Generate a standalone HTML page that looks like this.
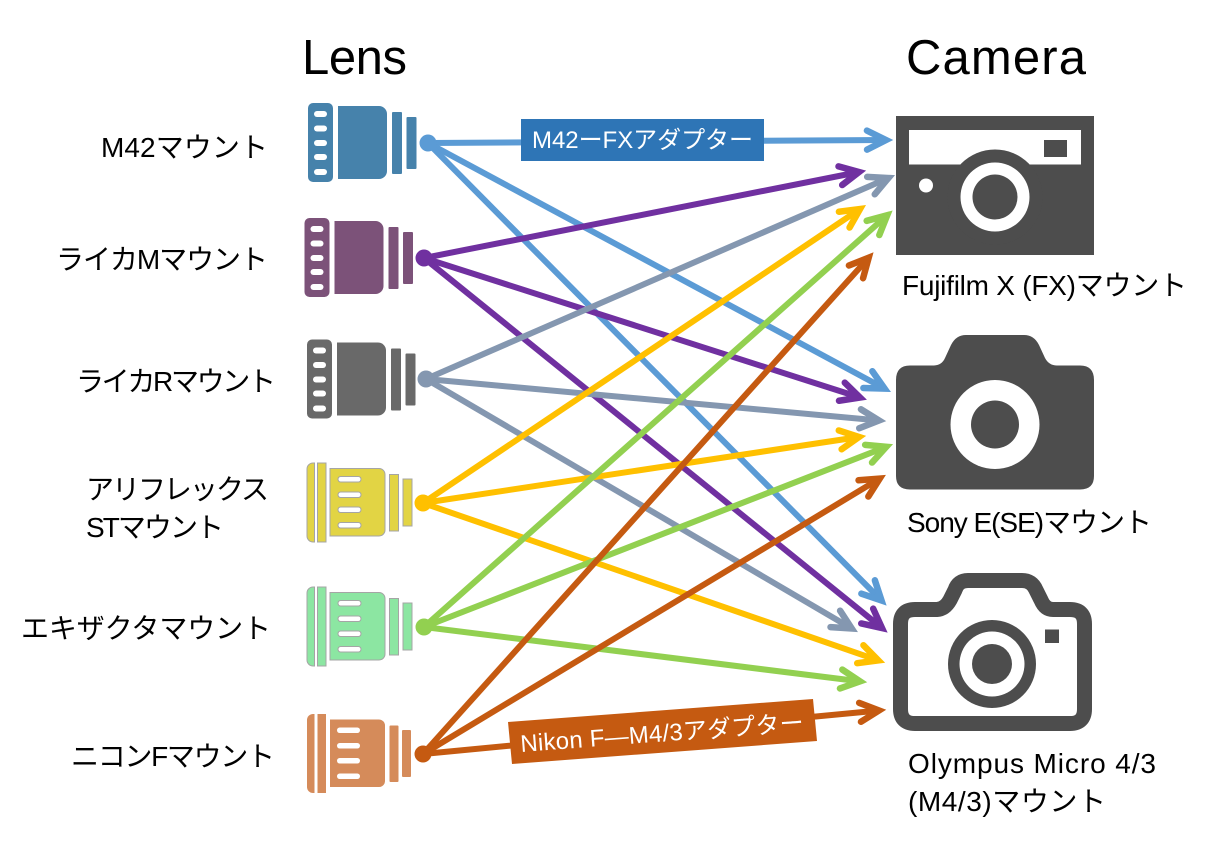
<!DOCTYPE html>
<html><head><meta charset="utf-8"><style>
html,body{margin:0;padding:0;background:#fff;width:1225px;height:841px;overflow:hidden}
svg{display:block}
text{font-family:"Liberation Sans","Noto Sans CJK JP",sans-serif;fill:#000}
.t{font-size:28px}
.h{font-size:49px}
.w{fill:#fff;font-size:24px}
line{stroke-width:6}
</style></head><body>
<svg width="1225" height="841" viewBox="0 0 1225 841" xmlns="http://www.w3.org/2000/svg">
<defs>
<marker id="mb" markerUnits="userSpaceOnUse" markerWidth="60" markerHeight="60" refX="30" refY="30" orient="auto" overflow="visible"><path d="M11,20.500 L30,30 L11,39.500" fill="none" stroke="#5b9bd5" stroke-width="6.500" stroke-linecap="round" stroke-linejoin="miter"/></marker>
<marker id="mp" markerUnits="userSpaceOnUse" markerWidth="60" markerHeight="60" refX="30" refY="30" orient="auto" overflow="visible"><path d="M11,20.500 L30,30 L11,39.500" fill="none" stroke="#7030a0" stroke-width="6.500" stroke-linecap="round" stroke-linejoin="miter"/></marker>
<marker id="mg" markerUnits="userSpaceOnUse" markerWidth="60" markerHeight="60" refX="30" refY="30" orient="auto" overflow="visible"><path d="M11,20.500 L30,30 L11,39.500" fill="none" stroke="#8497b0" stroke-width="6.500" stroke-linecap="round" stroke-linejoin="miter"/></marker>
<marker id="my" markerUnits="userSpaceOnUse" markerWidth="60" markerHeight="60" refX="30" refY="30" orient="auto" overflow="visible"><path d="M11,20.500 L30,30 L11,39.500" fill="none" stroke="#ffc000" stroke-width="6.500" stroke-linecap="round" stroke-linejoin="miter"/></marker>
<marker id="mn" markerUnits="userSpaceOnUse" markerWidth="60" markerHeight="60" refX="30" refY="30" orient="auto" overflow="visible"><path d="M11,20.500 L30,30 L11,39.500" fill="none" stroke="#92d050" stroke-width="6.500" stroke-linecap="round" stroke-linejoin="miter"/></marker>
<marker id="mo" markerUnits="userSpaceOnUse" markerWidth="60" markerHeight="60" refX="30" refY="30" orient="auto" overflow="visible"><path d="M11,20.500 L30,30 L11,39.500" fill="none" stroke="#c55a11" stroke-width="6.500" stroke-linecap="round" stroke-linejoin="miter"/></marker>
</defs>

<text class="h" x="302" y="74" textLength="105">Lens</text>
<text class="h" x="906" y="74" textLength="180">Camera</text>

<text class="t" x="101" y="157" textLength="167">M42マウント</text>
<text class="t" x="56" y="269" textLength="212">ライカMマウント</text>
<text class="t" x="76" y="391" textLength="200">ライカRマウント</text>
<text class="t" x="86" y="499" textLength="183">アリフレックス</text>
<text class="t" x="86" y="537" textLength="138">STマウント</text>
<text class="t" x="21" y="638" textLength="250">エキザクタマウント</text>
<text class="t" x="71" y="766" textLength="204">ニコンFマウント</text>
<text class="t" x="902" y="295" textLength="285">Fujifilm X (FX)マウント</text>
<text class="t" x="907" y="532" textLength="245">Sony E(SE)マウント</text>
<text class="t" x="908" y="773" textLength="248">Olympus Micro 4/3</text>
<text class="t" x="908" y="811" textLength="198">(M4/3)マウント</text>

<!-- lenses type A -->
<g fill="#4682ab">
<rect x="308" y="103" width="25" height="79" rx="5"/>
<path d="M338,106H379a8,8 0 0 1 8,8V171a8,8 0 0 1 -8,8H338Z"/>
<rect x="392" y="112" width="10" height="62" rx="1"/><rect x="406.500" y="117" width="10" height="52" rx="1"/>
<g fill="#fff"><rect x="314" y="111" width="13" height="6" rx="3"/><rect x="314" y="125.500" width="13" height="6" rx="3"/><rect x="314" y="140" width="13" height="6" rx="3"/><rect x="314" y="154" width="13" height="6" rx="3"/><rect x="314" y="169" width="13" height="6" rx="3"/></g>
</g>
<g fill="#7c5279" transform="translate(-3.500,115)">
<rect x="308" y="103" width="25" height="79" rx="5"/>
<path d="M338,106H379a8,8 0 0 1 8,8V171a8,8 0 0 1 -8,8H338Z"/>
<rect x="392" y="112" width="10" height="62" rx="1"/><rect x="406.500" y="117" width="10" height="52" rx="1"/>
<g fill="#fff"><rect x="314" y="111" width="13" height="6" rx="3"/><rect x="314" y="125.500" width="13" height="6" rx="3"/><rect x="314" y="140" width="13" height="6" rx="3"/><rect x="314" y="154" width="13" height="6" rx="3"/><rect x="314" y="169" width="13" height="6" rx="3"/></g>
</g>
<g fill="#696969" transform="translate(-1,236.500)">
<rect x="308" y="103" width="25" height="79" rx="5"/>
<path d="M338,106H379a8,8 0 0 1 8,8V171a8,8 0 0 1 -8,8H338Z"/>
<rect x="392" y="112" width="10" height="62" rx="1"/><rect x="406.500" y="117" width="10" height="52" rx="1"/>
<g fill="#fff"><rect x="314" y="111" width="13" height="6" rx="3"/><rect x="314" y="125.500" width="13" height="6" rx="3"/><rect x="314" y="140" width="13" height="6" rx="3"/><rect x="314" y="154" width="13" height="6" rx="3"/><rect x="314" y="169" width="13" height="6" rx="3"/></g>
</g>

<!-- lenses type B -->
<g fill="#e2d444" stroke="#a5a5a5" stroke-width="1">
<path d="M314.500,463V542H313a6,6 0 0 1 -6,-6V469a6,6 0 0 1 6,-6Z"/>
<rect x="317.500" y="463" width="8.500" height="79"/>
<path d="M330,468.500H379a6,6 0 0 1 6,6V530a6,6 0 0 1 -6,6H330Z"/>
<rect x="389.500" y="474.500" width="9" height="56.500"/><rect x="403" y="479" width="9" height="47"/>
<g fill="#fff"><rect x="338" y="476.500" width="23" height="5.500" rx="2.700"/><rect x="338" y="492" width="23" height="5.500" rx="2.700"/><rect x="338" y="507" width="23" height="5.500" rx="2.700"/><rect x="338" y="522.500" width="23" height="5.500" rx="2.700"/></g>
</g>
<g fill="#8ce6a2" stroke="#a5a5a5" stroke-width="1" transform="translate(0,124)">
<path d="M314.500,463V542H313a6,6 0 0 1 -6,-6V469a6,6 0 0 1 6,-6Z"/>
<rect x="317.500" y="463" width="8.500" height="79"/>
<path d="M330,468.500H379a6,6 0 0 1 6,6V530a6,6 0 0 1 -6,6H330Z"/>
<rect x="389.500" y="474.500" width="9" height="56.500"/><rect x="403" y="479" width="9" height="47"/>
<g fill="#fff"><rect x="338" y="476.500" width="23" height="5.500" rx="2.700"/><rect x="338" y="492" width="23" height="5.500" rx="2.700"/><rect x="338" y="507" width="23" height="5.500" rx="2.700"/><rect x="338" y="522.500" width="23" height="5.500" rx="2.700"/></g>
</g>
<g fill="#d58b5a" transform="translate(0,251)">
<path d="M314.500,463V542H313a6,6 0 0 1 -6,-6V469a6,6 0 0 1 6,-6Z"/>
<rect x="317.500" y="463" width="8.500" height="79"/>
<path d="M330,468.500H379a6,6 0 0 1 6,6V530a6,6 0 0 1 -6,6H330Z"/>
<rect x="389.500" y="474.500" width="9" height="56.500" rx="1"/><rect x="402" y="479" width="9" height="47" rx="1"/>
<g fill="#fff"><rect x="337" y="476.500" width="23" height="5.500" rx="2.700"/><rect x="337" y="492" width="23" height="5.500" rx="2.700"/><rect x="337" y="507" width="23" height="5.500" rx="2.700"/><rect x="337" y="522.500" width="23" height="5.500" rx="2.700"/></g>
</g>

<!-- FX camera -->
<rect x="896" y="116" width="198" height="139" fill="#4d4d4d"/>
<rect x="909" y="130" width="172" height="34.500" fill="#fff"/>
<rect x="1044" y="140" width="23" height="17" fill="#4d4d4d"/>
<circle cx="995" cy="197" r="47.500" fill="#4d4d4d"/>
<circle cx="995" cy="197" r="34.500" fill="#fff"/>
<circle cx="995" cy="197" r="22.500" fill="#4d4d4d"/>
<circle cx="926" cy="185.500" r="7" fill="#fff"/>

<!-- Sony camera -->
<path fill="#4d4d4d" d="M910,365.500H934Q942,365 945,358L951,345Q956,335 966,335H1024Q1034,335 1039,345L1045,358Q1049,365.500 1057,365.500H1080Q1094,365.500 1094,380V476Q1094,489.500 1080,489.500H910Q896,489.500 896,476V380Q896,365.500 910,365.500Z"/>
<circle cx="995" cy="424.500" r="44.500" fill="#fff"/>
<circle cx="995" cy="424.500" r="24" fill="#4d4d4d"/>

<!-- Olympus camera -->
<path fill="none" stroke="#4d4d4d" stroke-width="15" stroke-linejoin="round" d="M915,609.500H937Q945,609 950,600L955,590Q958,580.500 968,580.500H1022Q1032,580.500 1036,590L1041,600Q1045,609.500 1053,609.500H1070Q1084.500,609.500 1084.500,624V709Q1084.500,723.500 1070,723.500H915Q900.500,723.500 900.500,709V624Q900.500,609.500 915,609.500Z"/>
<circle cx="992" cy="664" r="44" fill="#4d4d4d"/>
<circle cx="992" cy="664" r="32.500" fill="#fff"/>
<circle cx="992" cy="664" r="20" fill="#4d4d4d"/>
<rect x="1045" y="629.500" width="14" height="13.500" fill="#4d4d4d"/>

<!-- connectors -->
<g stroke="#5b9bd5">
<line x1="428" y1="143" x2="886" y2="140" marker-end="url(#mb)"/>
<line x1="428" y1="143" x2="884.600" y2="388.600" marker-end="url(#mb)"/>
<line x1="428" y1="143" x2="881.500" y2="600.500" marker-end="url(#mb)"/>
</g>
<circle cx="428" cy="143" r="8.500" fill="#5b9bd5"/>
<g stroke="#7030a0">
<line x1="424" y1="258" x2="859" y2="172" marker-end="url(#mp)"/>
<line x1="424" y1="258" x2="860" y2="397.500" marker-end="url(#mp)"/>
<line x1="424" y1="258" x2="882" y2="628" marker-end="url(#mp)"/>
</g>
<circle cx="424" cy="258" r="8.500" fill="#7030a0"/>
<g stroke="#8497b0">
<line x1="426" y1="379" x2="888.400" y2="178" marker-end="url(#mg)"/>
<line x1="426" y1="379" x2="879" y2="420.500" marker-end="url(#mg)"/>
<line x1="426" y1="379" x2="851.700" y2="628.500" marker-end="url(#mg)"/>
</g>
<circle cx="426" cy="379" r="8.500" fill="#8497b0"/>
<g stroke="#ffc000">
<line x1="423" y1="503" x2="860" y2="209" marker-end="url(#my)"/>
<line x1="423" y1="503" x2="859" y2="437" marker-end="url(#my)"/>
<line x1="423" y1="503" x2="878.300" y2="660.400" marker-end="url(#my)"/>
</g>
<circle cx="423" cy="503" r="8.500" fill="#ffc000"/>
<g stroke="#92d050">
<line x1="424" y1="627" x2="887.200" y2="215.300" marker-end="url(#mn)"/>
<line x1="424" y1="627" x2="886.300" y2="446.800" marker-end="url(#mn)"/>
<line x1="424" y1="627" x2="860" y2="681.400" marker-end="url(#mn)"/>
</g>
<circle cx="424" cy="627" r="8.500" fill="#92d050"/>
<g stroke="#c55a11">
<line x1="423" y1="754" x2="868.700" y2="257.700" marker-end="url(#mo)"/>
<line x1="423" y1="754" x2="879.700" y2="478.600" marker-end="url(#mo)"/>
<line x1="423" y1="754" x2="879" y2="710.500" marker-end="url(#mo)"/>
</g>
<circle cx="423" cy="754" r="8.500" fill="#c55a11"/>

<!-- labels on connectors -->
<rect x="521" y="119" width="243" height="42" fill="#2e75b6"/>
<text class="w" x="532" y="148" textLength="221">M42ーFXアダプター</text>
<polygon points="508,722 813,699 817,741 512,764" fill="#c55a11"/>
<text class="w" x="0" y="0" textLength="284" transform="translate(521,752) rotate(-4.300)">Nikon F—M4/3アダプター</text>
</svg>
</body></html>
